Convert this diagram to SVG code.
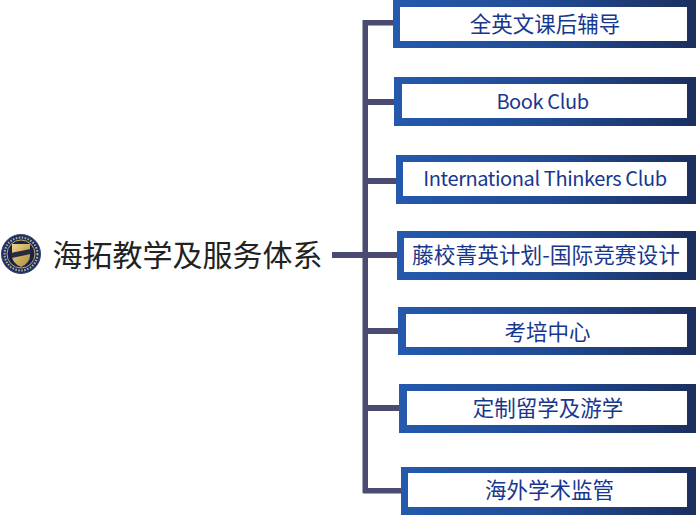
<svg xmlns="http://www.w3.org/2000/svg" width="700" height="530" viewBox="0 0 700 530">
<defs>
<linearGradient id="g" x1="0" y1="0" x2="1" y2="0"><stop offset="0" stop-color="#2459ad"/><stop offset="0.5" stop-color="#214b94"/><stop offset="1" stop-color="#1b2f5f"/></linearGradient>
<linearGradient id="gold" x1="0" y1="0" x2="1" y2="1"><stop offset="0" stop-color="#ecd58c"/><stop offset="1" stop-color="#b08a35"/></linearGradient>
</defs>
<style>
.o{fill:url(#g)}
.i{fill:#fff}
.t{font-family:"Noto Sans CJK SC","Noto Sans",sans-serif;font-size:21.500px;fill:#17378f;text-anchor:middle;dominant-baseline:central}
.l{font-size:20px;letter-spacing:-0.400px}
.c{fill:#4b4a70}
</style>
<rect width="700" height="530" fill="#fff"/>
<g id="connectors">
<rect class="c" x="332" y="252" width="65" height="6"/>
<rect class="c" x="362.500" y="20" width="5.500" height="473"/>
<rect class="c" x="363" y="20" width="31" height="5.500"/>
<rect class="c" x="363" y="99" width="32" height="6"/>
<rect class="c" x="363" y="178" width="34" height="6"/>
<rect class="c" x="363" y="328" width="36" height="6"/>
<rect class="c" x="363" y="405" width="37" height="6"/>
<rect class="c" x="363" y="488" width="39" height="5.500"/>
</g>
<g id="root">
<circle cx="21" cy="254" r="19.500" fill="#1d2f66" stroke="#3a4468" stroke-width="1"/>
<circle cx="21" cy="254" r="16.500" fill="none" stroke="#b9b48e" stroke-width="2" stroke-dasharray="1.500 1.500"/>
<circle cx="21" cy="254" r="14" fill="#16224e" stroke="#c9a95a" stroke-width="1"/>
<path d="M12 244 H30 V256 Q30 263 21 267 Q12 263 12 256 Z" fill="url(#gold)"/>
<rect x="11" y="251" width="20" height="5" fill="#2a2a40" transform="rotate(-12 21 253)"/>
<text x="187.500" y="253" style="font-family:'Noto Sans CJK SC','Noto Sans',sans-serif;font-size:30px;fill:#222;text-anchor:middle;dominant-baseline:central">海拓教学及服务体系</text>
</g>
<g id="n1"><rect class="o" x="393" y="-1" width="303" height="49"/><rect class="i" x="400" y="7" width="287" height="34"/><text class="t" x="545" y="22">全英文课后辅导</text></g>
<g id="n2"><rect class="o" x="394" y="77" width="302" height="49"/><rect class="i" x="402" y="84" width="285" height="34"/><text class="t l" x="542.500" y="100">Book Club</text></g>
<g id="n3"><rect class="o" x="396" y="155" width="300" height="49"/><rect class="i" x="403" y="162" width="284" height="34"/><text class="t l" x="545" y="177">International Thinkers Club</text></g>
<g id="n4"><rect class="o" x="397" y="231" width="299" height="49"/><rect class="i" x="404" y="238" width="283" height="34"/><text class="t" x="546" y="253" style="font-size:21.700px">藤校菁英计划-国际竞赛设计</text></g>
<g id="n5"><rect class="o" x="398" y="307" width="298" height="48"/><rect class="i" x="406" y="314" width="281" height="33"/><text class="t" x="547.500" y="330">考培中心</text></g>
<g id="n6"><rect class="o" x="399" y="384" width="297" height="49"/><rect class="i" x="407" y="391" width="280" height="34"/><text class="t" x="548" y="406">定制留学及游学</text></g>
<g id="n7"><rect class="o" x="401" y="467" width="295" height="48"/><rect class="i" x="408" y="473" width="279" height="34"/><text class="t" x="549.500" y="488">海外学术监管</text></g>
</svg>
